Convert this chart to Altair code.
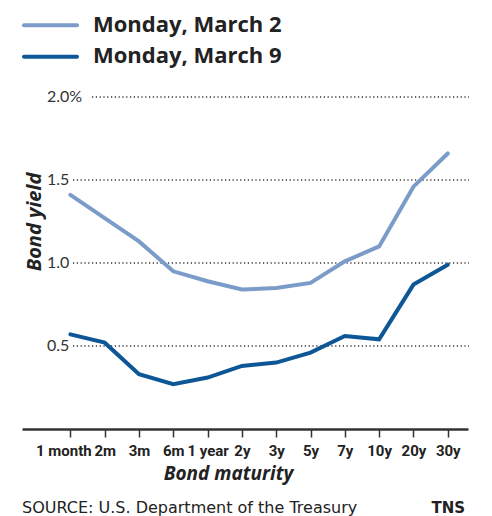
import altair as alt
import pandas as pd

maturities = ["1 month", "2m", "3m", "6m", "1 year", "2y", "3y", "5y", "7y", "10y", "20y", "30y"]
mar2 = [1.41, 1.27, 1.13, 0.95, 0.89, 0.84, 0.85, 0.88, 1.01, 1.10, 1.46, 1.66]
mar9 = [0.57, 0.52, 0.33, 0.27, 0.31, 0.38, 0.40, 0.46, 0.56, 0.54, 0.87, 0.99]
series_names = ["Monday, March 2", "Monday, March 9"]
colors = ["#7b9cc8", "#0d5797"]
grid_values = [2.0, 1.5, 1.0, 0.5]
grid_labels = ["2.0%", "1.5", "1.0", "0.5"]
source_text = "SOURCE: U.S. Department of the Treasury"
credit_text = "TNS"

W, H = 446, 332
TITLE_FONT = "Open Sans"
LABEL_FONT = "Roboto"

df = pd.DataFrame({
    "maturity": maturities * 2,
    "yield": mar2 + mar9,
    "series": [series_names[0]] * len(maturities) + [series_names[1]] * len(maturities),
})
grid_df = pd.DataFrame({"v": grid_values, "label": grid_labels})

xscale = alt.Scale(type="point", domain=maturities, padding=1.166, align=0.705)
yscale = alt.Scale(domain=[0, 2], nice=False, zero=True)
cscale = alt.Scale(domain=series_names, range=colors)

base_grid = alt.Chart(grid_df)
grid_wide = base_grid.transform_filter("datum.v == 2").mark_rule(
    strokeDash=[1.2, 2.6], stroke="#333333", strokeWidth=1.3
).encode(y=alt.Y("v:Q", scale=yscale, axis=None), x=alt.value(70), x2=alt.value(447))
grid_narrow = base_grid.transform_filter("datum.v != 2").mark_rule(
    strokeDash=[1.2, 2.6], stroke="#333333", strokeWidth=1.3
).encode(y=alt.Y("v:Q", scale=yscale, axis=None), x=alt.value(51), x2=alt.value(447))
grid_text = base_grid.mark_text(
    align="left", baseline="middle", font="Lato", fontSize=16, color="#333333"
).encode(y=alt.Y("v:Q", scale=yscale, axis=None), x=alt.value(25), text="label:N")

lines = alt.Chart(df).mark_line(strokeWidth=4, strokeCap="round").encode(
    x=alt.X(
        "maturity:N", scale=xscale, sort=maturities,
        axis=alt.Axis(
            title="Bond maturity", labelAngle=0, grid=False,
            domainColor="#333333", domainWidth=2.5,
            tickColor="#333333", tickWidth=1.5, tickSize=8,
            labelFont=LABEL_FONT, labelFontSize=15, labelFontWeight="bold",
            labelColor="#222222", labelPadding=6,
            labelOffset={"condition": {"test": "datum.value === '1 month'", "value": -7}, "value": 0},
            titleFont=TITLE_FONT, titleFontSize=19, titleFontWeight="bold",
            titleFontStyle="italic", titleColor="#222222", titlePadding=6, titleX=206,
        ),
    ),
    y=alt.Y("yield:Q", scale=yscale, axis=None),
    color=alt.Color("series:N", scale=cscale, legend=None),
)

y_title = alt.Chart(pd.DataFrame({"t": ["Bond yield"]})).mark_text(
    angle=270, align="center", baseline="alphabetic", font=TITLE_FONT,
    fontSize=20, fontWeight="bold", fontStyle="italic", color="#222222"
).encode(x=alt.value(19), y=alt.value(125), text="t:N")

legend_layers = []
for i, name in enumerate(series_names):
    ldf = pd.DataFrame({"series": [name]})
    ly = -71.7 + i * 31.4
    legend_layers.append(
        alt.Chart(ldf).mark_rule(strokeWidth=4, strokeCap="round").encode(
            x=alt.value(2), x2=alt.value(55), y=alt.value(ly),
            color=alt.Color("series:N", scale=cscale, legend=None),
        )
    )
    legend_layers.append(
        alt.Chart(ldf).mark_text(
            align="left", baseline="alphabetic", font=TITLE_FONT, fontSize=22,
            fontWeight="bold", color="#222222"
        ).encode(x=alt.value(71), y=alt.value(ly + 6.7), text="series:N")
    )

source = alt.Chart(pd.DataFrame({"t": [source_text]})).mark_text(
    align="left", baseline="alphabetic", font="DejaVu Sans", fontSize=16, color="#222222"
).encode(x=alt.value(0), y=alt.value(416), text="t:N")
credit = alt.Chart(pd.DataFrame({"t": [credit_text]})).mark_text(
    align="right", baseline="alphabetic", font="DejaVu Sans", fontSize=15,
    fontWeight="bold", color="#222222"
).encode(x=alt.value(443), y=alt.value(416), text="t:N")

chart = alt.layer(
    grid_wide, grid_narrow, grid_text, lines, y_title, *legend_layers, source, credit
).properties(
    width=W, height=H,
    background="white",
    autosize=alt.AutoSizeParams(type="none"),
    padding={"left": 14, "top": 89, "right": 16, "bottom": 87},
).configure_view(stroke=None)

chart.save("out.html", embed_options={"renderer": "svg", "actions": False})
